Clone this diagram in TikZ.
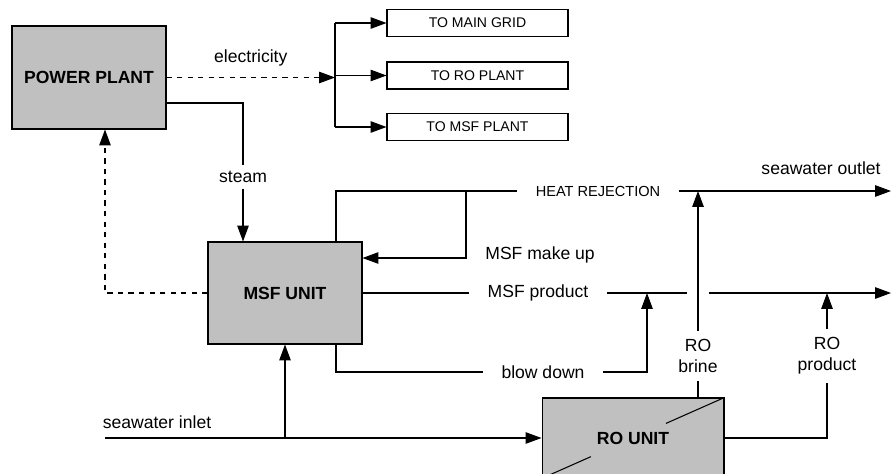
\documentclass[tikz,border=0pt]{standalone}
\usepackage{fontspec}
\setmainfont{Liberation Sans}
\usepackage{xcolor}
\usepackage{tikz}
\usetikzlibrary{positioning,%
  arrows.meta,%
  calc,%
  shapes
}
\definecolor{boxgray}{RGB}{192,192,192}
\tikzset{
  unit/.style={draw,fill=boxgray,inner sep=0pt,font=\bfseries},
  dest/.style={draw,inner sep=0pt,minimum width=3.62cm,minimum height=0.54cm,font=\fontsize{8}{9.5}\selectfont},
  flow/.style={-{Triangle[length=9pt,width=6.5pt]}},
  gap/.style={inner xsep=0.36cm,inner ysep=0.1cm},
  small/.style={font=\fontsize{8.3}{10}\selectfont}
}

\begin{document}
\begin{tikzpicture}[x=0.02cm,y=-0.02cm,semithick]
            \useasboundingbox (0,0) rectangle (891,473);

            \node[unit,minimum width=3.08cm,minimum height=2.06cm] (pp) at (89,77.5) {POWER PLANT};
            \node[unit,minimum width=3.08cm,minimum height=2.04cm] (msf) at (285,293) {MSF UNIT};
            \node[unit,minimum width=3.64cm,minimum height=1.6cm] (ro) at (633,438) {RO UNIT};
            \draw (ro.south west) -- ($(ro.south west)!0.27!(ro.north east)$);
            \draw ($(ro.south west)!0.68!(ro.north east)$) -- (ro.north east);

            \node[dest] (grid) at (477.5,23) {TO MAIN GRID};
            \node[dest] (roplant) at (477.5,75.5) {TO RO PLANT};
            \node[dest] (msfplant) at (477.5,127) {TO MSF PLANT};

            \coordinate (split) at (335,77.5);
            \draw[dashed,flow] (pp.east) -- node[above=3pt] {electricity} (split);
            \draw (split |- grid) -- (split |- msfplant);
            \foreach \n in {grid,roplant,msfplant}
                \draw[flow] (split |- \n) -- (\n);

            \node[gap,inner ysep=0.12cm] (steam) at (243,177) {steam};
            \draw ([yshift=-0.51cm]pp.east) -| (steam);
            \draw[flow] (steam) -- (steam |- msf.north);
            \draw[dashed,flow] (msf.west) -| ([xshift=0.32cm]pp.south);

            \node[gap,small] (heat) at (598,191) {HEAT REJECTION};
            \coordinate (outlet) at (891,191);
            \draw ([xshift=1.02cm]msf.north) |- (heat);
            \draw[flow] (heat) -- (outlet);
            \node[anchor=south east] (outlettxt) at (887,181) {seawater outlet};

            \coordinate (makeup) at (466,191);
            \draw[flow] (makeup) |- ([yshift=0.70cm]msf.east);
            \node[anchor=west] (makeuptxt) at (479,255) {MSF make up};

            \node[gap] (mprod) at (538,293) {MSF product};
            \coordinate (hopl) at (687,293);
            \coordinate (hopr) at (709,293);
            \coordinate (prodout) at (891,293);
            \draw (msf) -- (mprod);
            \draw (mprod) -- (hopl);
            \draw[flow] (hopr) -- (prodout);

            \node[gap] (blow) at (543,372) {blow down};
            \coordinate (bdin) at (647,293);
            \draw ([xshift=1.02cm]msf.south) |- (blow);
            \draw[flow] (blow) -| (bdin);

            \node[align=center,inner ysep=0.15cm] (brine) at (698,356) {RO\\brine};
            \draw (ro.north -| brine) -- (brine);
            \draw[flow] (brine) -- (brine |- heat);

            \node[align=center,inner ysep=0.15cm] (roprod) at (827,356) {RO\\product};
            \draw (ro.east) -| (roprod);
            \draw[flow] (roprod) -- (roprod |- mprod);

            \coordinate (inlet) at (105,438);
            \draw[flow] (inlet) -- (ro);
            \draw[flow] (msf.south |- inlet) -- (msf);
            \node (inlettxt) at (157,422) {seawater inlet};
\end{tikzpicture}
\end{document}
